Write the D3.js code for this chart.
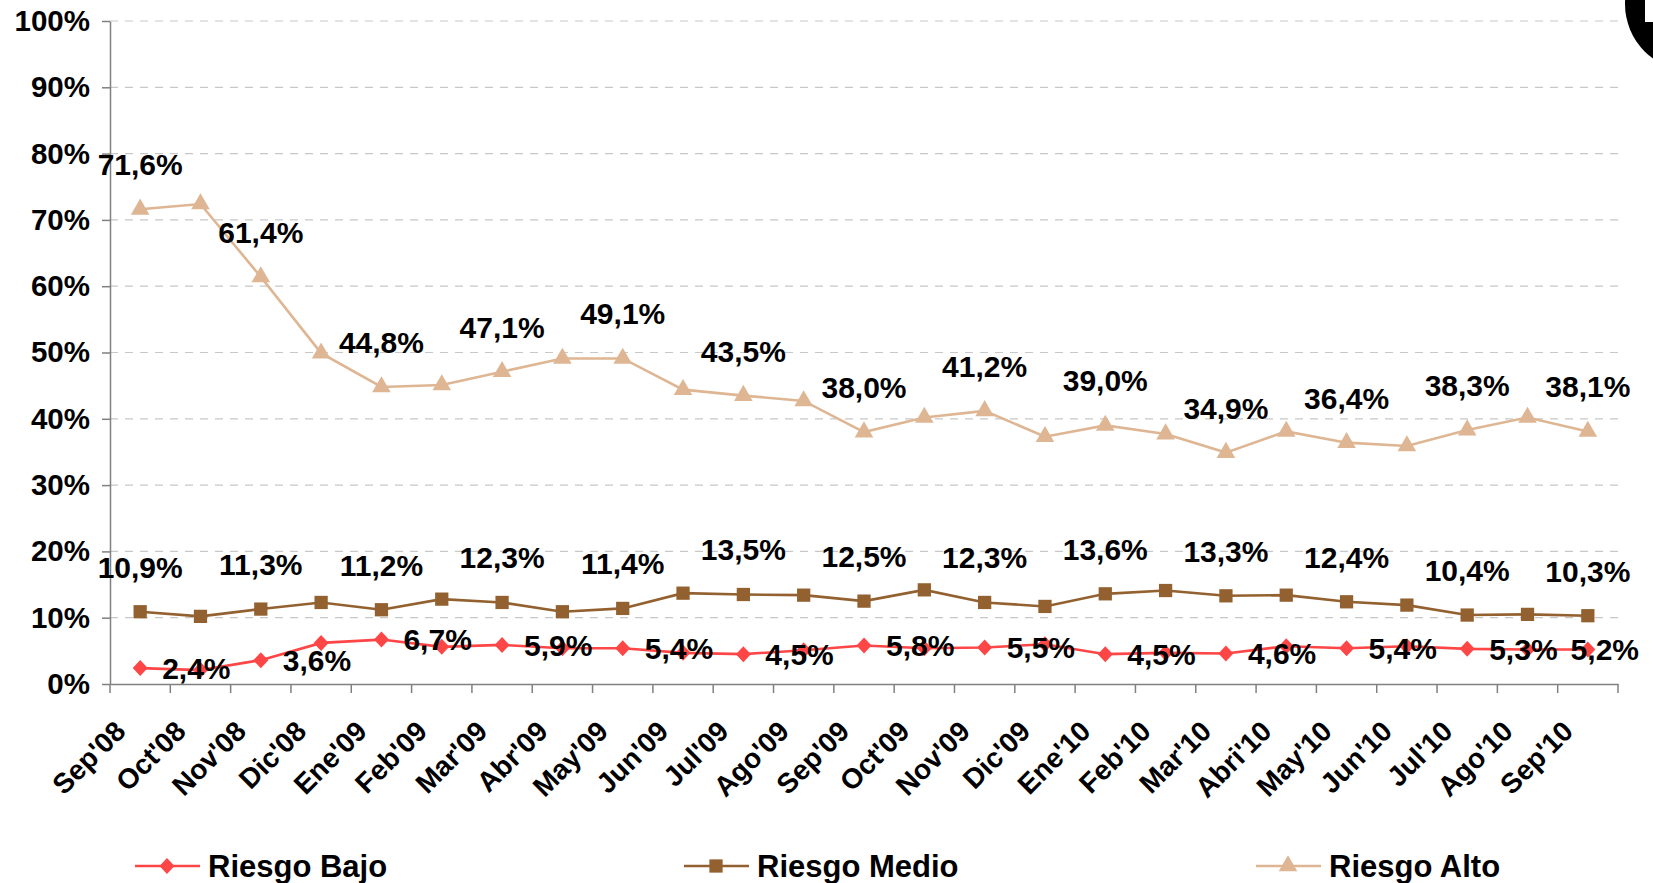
<!DOCTYPE html>
<html>
<head>
<meta charset="utf-8">
<script src="https://cdn.jsdelivr.net/npm/d3@7"></script>
<style>
  body { margin: 0; background: #fff; }
  svg { display: block; font-family: "Liberation Sans", Arial, sans-serif; }
</style>
</head>
<body>
<div id="chart-area"></div>
<script>
// months on the x axis
const months = ["Sep'08", "Oct'08", "Nov'08", "Dic'08", "Ene'09", "Feb'09", "Mar'09", "Abr'09", "May'09",
    "Jun'09", "Jul'09", "Ago'09", "Sep'09", "Oct'09", "Nov'09", "Dic'09", "Ene'10", "Feb'10", "Mar'10",
    "Abri'10", "May'10", "Jun'10", "Jul'10", "Ago'10", "Sep'10"];

// series values in %
const riesgoBajo = [2.4, 2.1, 3.6, 6.2, 6.7, 5.6, 5.9, 5.4, 5.4, 4.7, 4.5, 5.1, 5.8, 5.4, 5.5, 6.0,
    4.5, 4.7, 4.6, 5.7, 5.4, 5.7, 5.3, 5.2, 5.2];
const riesgoMedio = [10.9, 10.2, 11.3, 12.3, 11.2, 12.8, 12.3, 10.9, 11.4, 13.7, 13.5, 13.4, 12.5, 14.2,
    12.3, 11.7, 13.6, 14.1, 13.3, 13.4, 12.4, 11.9, 10.4, 10.5, 10.3];
const riesgoAlto = [71.6, 72.4, 61.4, 49.9, 44.8, 45.1, 47.1, 49.1, 49.1, 44.4, 43.5, 42.7, 38.0, 40.2,
    41.2, 37.3, 39.0, 37.7, 34.9, 38.1, 36.4, 35.9, 38.3, 40.2, 38.1];

const seriesNames = ["Riesgo Bajo", "Riesgo Medio", "Riesgo Alto"];
const yTicks = [0, 10, 20, 30, 40, 50, 60, 70, 80, 90, 100];

window.addEventListener('DOMContentLoaded', () => {

    const W = 1653, H = 883;
    const margin = { top: 21, right: 35, bottom: 199, left: 110 };
    const width = W - margin.left - margin.right;
    const height = H - margin.top - margin.bottom;

    const svg = d3.select('#chart-area')
        .append('svg')
        .attr('width', W)
        .attr('height', H);

    const chart = svg.append('g')
        .attr('transform', `translate(${margin.left},${margin.top})`);

    const x = d3.scaleBand().domain(months).range([0, width]);
    const y = d3.scaleLinear().domain([0, 100]).range([height, 0]);
    const cx = (i) => x(months[i]) + x.bandwidth() / 2;
    const fmt = (v) => d3.format('.1f')(v).replace('.', ',') + '%';

    // dashed grid
    chart.append('g')
        .selectAll('line')
        .data(yTicks.filter(d => d > 0))
        .enter().append('line')
        .attr('x1', 0).attr('x2', width)
        .attr('y1', d => y(d)).attr('y2', d => y(d))
        .attr('stroke', '#c8c8c8')
        .attr('stroke-width', 1.2)
        .attr('stroke-dasharray', '8,7');

    // y axis
    const leftAxis = chart.append('g')
        .call(d3.axisLeft(y).tickValues(yTicks).tickFormat(d => d + '%').tickSize(8).tickSizeOuter(0));
    leftAxis.select('.domain').attr('stroke', '#808080').attr('stroke-width', 1.5);
    leftAxis.selectAll('.tick line').attr('stroke', '#808080').attr('stroke-width', 1.5);
    leftAxis.selectAll('.tick text')
        .attr('x', -20)
        .attr('font-size', 29.5).attr('font-weight', 'bold').attr('fill', '#000');

    // x axis, ticks between categories
    const bottomAxis = chart.append('g')
        .attr('transform', `translate(0,${height})`)
        .call(d3.axisBottom(x).tickSize(0).tickSizeOuter(0));
    bottomAxis.select('.domain').attr('stroke', '#808080').attr('stroke-width', 1.5);
    bottomAxis.selectAll('.tick text')
        .attr('font-size', 28).attr('font-weight', 'bold').attr('fill', '#000')
        .attr('text-anchor', 'end')
        .attr('transform', 'translate(-13,49) rotate(-45)')
        .attr('x', 0).attr('y', 0).attr('dy', 0);
    bottomAxis.append('g')
        .selectAll('line')
        .data(d3.range(months.length + 1))
        .enter().append('line')
        .attr('x1', i => i * x.step()).attr('x2', i => i * x.step())
        .attr('y1', 0).attr('y2', 9)
        .attr('stroke', '#808080').attr('stroke-width', 1.5);

    const diamond = 'M0,-8L7.5,0L0,8L-7.5,0Z';
    const square = d3.symbol().type(d3.symbolSquare).size(176)();
    const triangle = d3.symbol().type(d3.symbolTriangle).size(150)();

    const series = [
        { name: seriesNames[0], values: riesgoBajo, color: '#ff4646', marker: diamond, label: 'right' },
        { name: seriesNames[1], values: riesgoMedio, color: '#93612f', marker: square, label: 'top' },
        { name: seriesNames[2], values: riesgoAlto, color: '#dfb693', marker: triangle, label: 'top' }
    ];

    const line = d3.line().x((d, i) => cx(i)).y(d => y(d));

    // draw back to front: Alto, Medio, Bajo
    series.slice().reverse().forEach(s => {
        const g = chart.append('g');
        g.append('path')
            .datum(s.values)
            .attr('d', line)
            .attr('fill', 'none')
            .attr('stroke', s.color)
            .attr('stroke-width', 2.6);
        g.selectAll('path.m')
            .data(s.values)
            .enter().append('path')
            .attr('class', 'm')
            .attr('d', s.marker)
            .attr('transform', (d, i) => `translate(${cx(i)},${y(d)})`)
            .attr('fill', s.color);
    });

    // data labels on every other month
    series.forEach(s => {
        const g = chart.append('g');
        s.values.forEach((v, i) => {
            if (i % 2 !== 0) return;
            const t = g.append('text')
                .text(fmt(v))
                .attr('font-size', 30)
                .attr('font-weight', 'bold')
                .attr('fill', '#000');
            if (s.label === 'top') {
                t.attr('x', cx(i)).attr('y', y(v) - 34).attr('text-anchor', 'middle');
            } else {
                t.attr('x', cx(i) + 22).attr('y', y(v)).attr('dy', '0.36em');
                const bb = t.node().getBBox();
                const maxX = W - margin.left - 14;
                if (bb.x + bb.width > maxX) t.attr('x', maxX - bb.width);
            }
        });
    });

    // legend
    const legendX = [135, 684, 1256];
    const legend = svg.append('g').attr('transform', 'translate(0,866)');
    series.forEach((s, i) => {
        const lg = legend.append('g').attr('transform', `translate(${legendX[i]},0)`);
        lg.append('line').attr('x1', 0).attr('x2', 65).attr('y1', 0).attr('y2', 0)
            .attr('stroke', s.color).attr('stroke-width', 2.6);
        lg.append('path').attr('d', s.marker).attr('transform', 'translate(32,0)').attr('fill', s.color);
        lg.append('text').text(s.name)
            .attr('x', 73).attr('dy', '0.36em')
            .attr('font-size', 31).attr('font-weight', 'bold').attr('fill', '#000');
    });

    // partial black logo at top right corner
    svg.append('circle').attr('cx', 1692).attr('cy', 4).attr('r', 67).attr('fill', '#000');
    svg.append('rect').attr('x', 1645).attr('y', 0).attr('width', 8).attr('height', 22).attr('fill', '#fff');

}); // End of document ready.
</script>
</body>
</html>
